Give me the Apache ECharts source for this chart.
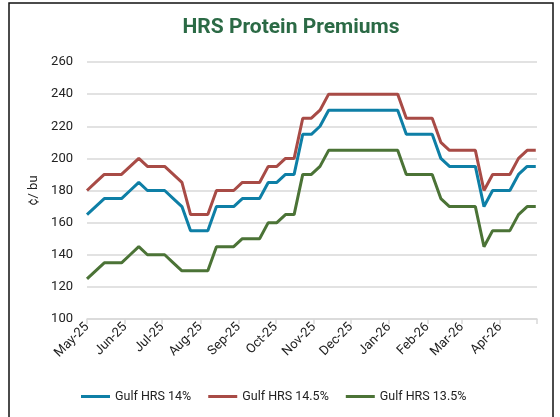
<!DOCTYPE html>
<html>
<head>
<meta charset="utf-8">
<script src="https://cdn.jsdelivr.net/npm/echarts@6/dist/echarts.min.js"></script>
<style>
html,body{margin:0;padding:0;background:#fff;}
#chart{width:560px;height:417px;}
</style>
</head>
<body>
<div id="chart"></div>
<script>
const dates = ['2025-05-01','2025-05-08','2025-05-15','2025-05-22','2025-05-29',
'2025-06-05','2025-06-12','2025-06-19','2025-06-26',
'2025-07-03','2025-07-10','2025-07-17','2025-07-24','2025-07-31',
'2025-08-07','2025-08-14','2025-08-21','2025-08-28',
'2025-09-04','2025-09-11','2025-09-18','2025-09-25',
'2025-10-02','2025-10-09','2025-10-16','2025-10-23','2025-10-30',
'2025-11-06','2025-11-13','2025-11-20','2025-11-27',
'2025-12-04','2025-12-11','2025-12-18','2025-12-25',
'2026-01-01','2026-01-08','2026-01-15','2026-01-22','2026-01-29',
'2026-02-05','2026-02-12','2026-02-19','2026-02-26',
'2026-03-05','2026-03-12','2026-03-19','2026-03-26',
'2026-04-02','2026-04-09','2026-04-16','2026-04-23','2026-04-30'];

const gulf14 = [165,170,175,175,175,180,185,180,180,180,175,170,155,155,155,
170,170,170,175,175,175,185,185,190,190,215,215,220,
230,230,230,230,230,230,230,230,230,
215,215,215,215,200,195,195,195,195,170,180,180,180,190,195,195];

const gulf145 = [180,185,190,190,190,195,200,195,195,195,190,185,165,165,165,
180,180,180,185,185,185,195,195,200,200,225,225,230,
240,240,240,240,240,240,240,240,240,
225,225,225,225,210,205,205,205,205,180,190,190,190,200,205,205];

const gulf135 = [125,130,135,135,135,140,145,140,140,140,135,130,130,130,130,
145,145,145,150,150,150,160,160,165,165,190,190,195,
205,205,205,205,205,205,205,205,205,
190,190,190,190,175,170,170,170,170,145,155,155,155,165,170,170];

const seriesNames = ['Gulf HRS 14%','Gulf HRS 14.5%','Gulf HRS 13.5%'];
const monthNames = ['Jan','Feb','Mar','Apr','May','Jun','Jul','Aug','Sep','Oct','Nov','Dec'];
const xMin = '2025-05-01', xMax = '2026-05-01';
const yTicks = {min:100, max:260, step:20};

const colors = ['#0e7fa6','#a84b46','#4b7336'];
const pair = arr => dates.map((d,i)=>[d, arr[i]]);
const maxTime = new Date(xMax + 'T00:00:00').getTime();

const chart = echarts.init(document.getElementById('chart'));
chart.setOption({
  animation:false,
  textStyle:{fontFamily:'Roboto'},
  title:{
    text:'HRS Protein Premiums', left:286, textAlign:'center', top:12,
    textStyle:{fontFamily:'Roboto', fontWeight:'bold', fontSize:21, color:'#2b6a45'}
  },
  graphic:[{
    type:'rect', shape:{x:9, y:3, width:544, height:440},
    style:{fill:'none', stroke:'#111', lineWidth:1.5}, silent:true
  }],
  legend:{
    data:seriesNames, bottom:14, left:81, padding:0,
    itemWidth:29, itemHeight:3, itemGap:17,
    icon:'rect',
    textStyle:{fontFamily:'Roboto', fontSize:12.5, color:'#222'}
  },
  grid:{left:87, right:23, top:62, bottom:98, containLabel:false},
  xAxis:{
    type:'time', min:xMin, max:xMax, splitNumber:12,
    axisLine:{show:true, lineStyle:{color:'#d9d9d9', width:1.5}},
    axisTick:{show:true, length:5, lineStyle:{color:'#d9d9d9', width:1.5}},
    splitLine:{show:false},
    axisLabel:{
      rotate:45, fontSize:13, color:'#222', fontFamily:'Roboto', margin:6,
      hideOverlap:false,
      formatter:function(v){
        if (v >= maxTime) return '';
        const d = new Date(v);
        return monthNames[d.getMonth()] + '-' + String(d.getFullYear()).slice(2);
      }
    }
  },
  yAxis:{
    type:'value', min:yTicks.min, max:yTicks.max, interval:yTicks.step,
    name:'¢/ bu', nameLocation:'middle', nameGap:45, nameRotate:90,
    nameTextStyle:{fontSize:13, color:'#222', fontFamily:'Roboto'},
    axisLine:{show:false}, axisTick:{show:false},
    axisLabel:{fontSize:13, color:'#222', fontFamily:'Roboto', margin:14},
    splitLine:{lineStyle:{color:'#d9d9d9', width:1.5}}
  },
  series:[
    {name:seriesNames[0], type:'line', data:pair(gulf14), showSymbol:false, symbol:'none', color:colors[0], lineStyle:{width:3}},
    {name:seriesNames[1], type:'line', data:pair(gulf145), showSymbol:false, symbol:'none', color:colors[1], lineStyle:{width:3}},
    {name:seriesNames[2], type:'line', data:pair(gulf135), showSymbol:false, symbol:'none', color:colors[2], lineStyle:{width:3}}
  ]
});
</script>
</body>
</html>
